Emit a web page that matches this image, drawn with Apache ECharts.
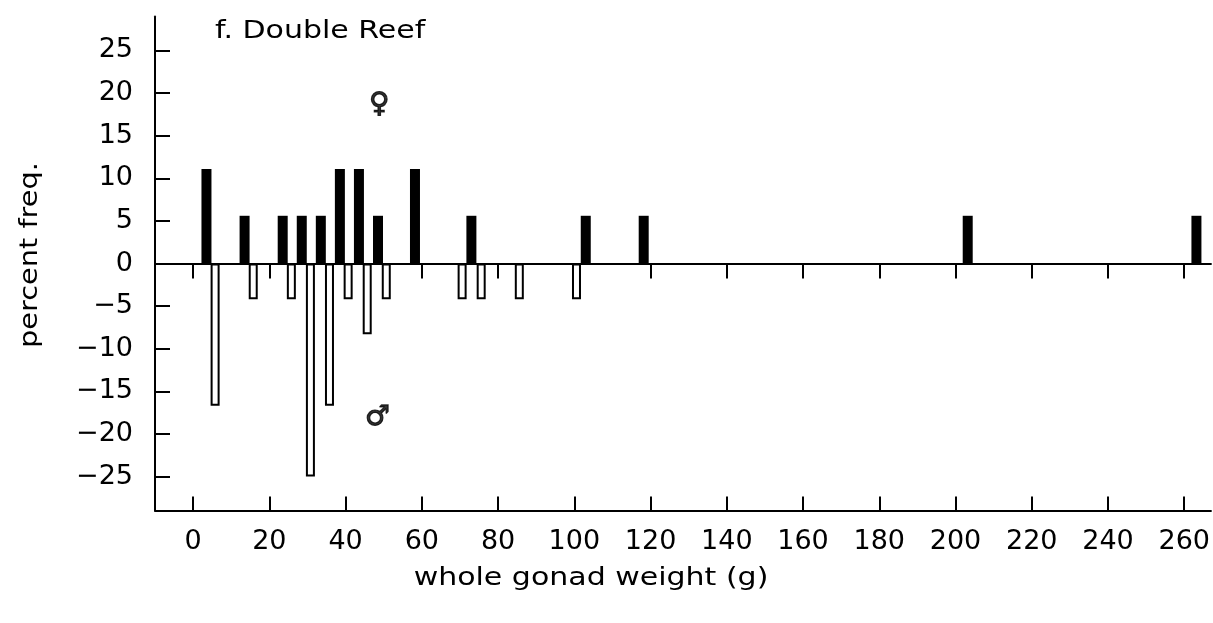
<!DOCTYPE html>
<html>
<head>
<meta charset="utf-8">
<title>f. Double Reef – whole gonad weight</title>
<script src="https://cdn.jsdelivr.net/npm/echarts@6/dist/echarts.min.js"></script>
<style>
  html, body { margin: 0; padding: 0; background: #fff; }
  #chart { width: 1213px; height: 623px; }
</style>
</head>
<body>
<div id="chart"></div>
<script>
// Whole gonad weight (g) bin positions and percent frequency by sex
const femaleWeight = [3.5, 13.5, 23.5, 28.5, 33.5, 38.5, 43.5, 48.5, 58.2, 73, 103, 118.2, 203.2, 263.2];
const femalePercent = [11.1, 5.6, 5.6, 5.6, 5.6, 11.1, 11.1, 5.6, 11.1, 5.6, 5.6, 5.6, 5.6, 5.6];

const maleWeight = [5.9, 15.9, 25.9, 30.9, 35.9, 40.8, 45.8, 50.8, 70.7, 75.7, 85.7, 100.7];
const malePercent = [-16.7, -4.2, -4.2, -25, -16.7, -4.2, -8.3, -4.2, -4.2, -4.2, -4.2, -4.2];

const xTicks = [0, 20, 40, 60, 80, 100, 120, 140, 160, 180, 200, 220, 240, 260];
const yTicks = [-25, -20, -15, -10, -5, 0, 5, 10, 15, 20, 25];

// Sex symbols placed in data space
const sexSymbols = [
  { text: '\u2640', weight: 48.8, percent: 18.6 },
  { text: '\u2642', weight: 48.4, percent: -18.1 }
];

const FONT = 'DejaVu Sans';
const INK = '#000';
// the lettering is a wide plotter face; stretch free text horizontally
const WIDE = 1.2;

const chart = echarts.init(document.getElementById('chart'), null, { renderer: 'canvas' });

const xMin = -10, xMax = 267;
const yMin = -29, yMax = 29;

chart.setOption({
  animation: false,
  backgroundColor: '#fff',
  grid: { left: 155, right: 0, top: 16.4, height: 494.2 },
  xAxis: [
    {
      // bottom axis with labels
      type: 'value', min: xMin, max: xMax,
      position: 'bottom',
      axisLine: { onZero: false, lineStyle: { color: INK, width: 2 } },
      axisTick: { inside: true, length: 14, lineStyle: { color: INK, width: 2 }, customValues: xTicks },
      axisLabel: {
        customValues: xTicks, margin: 18,
        fontFamily: FONT, fontSize: 27, color: INK
      },
      splitLine: { show: false }
    },
    {
      // zero baseline with downward ticks
      type: 'value', min: xMin, max: xMax,
      position: 'bottom',
      axisLine: { onZero: true, lineStyle: { color: INK, width: 2 } },
      axisTick: { inside: false, length: 15, lineStyle: { color: INK, width: 2 }, customValues: xTicks },
      axisLabel: { show: false },
      splitLine: { show: false }
    }
  ],
  yAxis: {
    type: 'value', min: yMin, max: yMax,
    axisLine: { show: true, onZero: false, lineStyle: { color: INK, width: 2 } },
    axisTick: { show: true, inside: true, length: 15, lineStyle: { color: INK, width: 2 }, customValues: yTicks },
    axisLabel: {
      customValues: yTicks, margin: 22,
      fontFamily: FONT, fontSize: 27, color: INK,
      formatter: v => (v < 0 ? '\u2212' + Math.abs(v) : String(v))
    },
    splitLine: { show: false }
  },
  graphic: [
    {
      type: 'text', x: 215, y: 31, scaleX: WIDE,
      style: { text: 'f. Double Reef', font: '25px "' + FONT + '"', fill: INK, textAlign: 'left', textVerticalAlign: 'middle' }
    },
    {
      type: 'text', x: 591, y: 578, scaleX: WIDE,
      style: { text: 'whole gonad weight (g)', font: '25px "' + FONT + '"', fill: INK, textAlign: 'center', textVerticalAlign: 'middle' }
    },
    {
      type: 'text', rotation: Math.PI / 2,
      x: 31, y: 255, scaleX: WIDE,
      style: { text: 'percent freq.', font: '24px "' + FONT + '"', fill: INK, textAlign: 'center', textVerticalAlign: 'middle' }
    }
  ],
  series: [
    {
      name: 'male',
      type: 'bar',
      xAxisIndex: 0,
      barWidth: 9,
      barGap: '-100%',
      data: maleWeight.map((w, i) => [w, malePercent[i]]),
      itemStyle: { color: '#fff', borderColor: INK, borderWidth: 2 },
      z: 2
    },
    {
      name: 'female',
      type: 'bar',
      xAxisIndex: 0,
      barWidth: 10,
      barGap: '-100%',
      data: femaleWeight.map((w, i) => [w, femalePercent[i]]),
      itemStyle: { color: INK },
      z: 2
    },
    {
      name: 'sex',
      type: 'scatter',
      xAxisIndex: 0,
      symbolSize: 0,
      data: sexSymbols.map(s => ({ value: [s.weight, s.percent], name: s.text })),
      label: {
        show: true, position: 'inside',
        formatter: p => p.name,
        fontFamily: FONT, fontSize: 28, color: INK,
        textBorderColor: INK, textBorderWidth: 1.2
      },
      z: 3
    }
  ]
});
</script>
</body>
</html>
